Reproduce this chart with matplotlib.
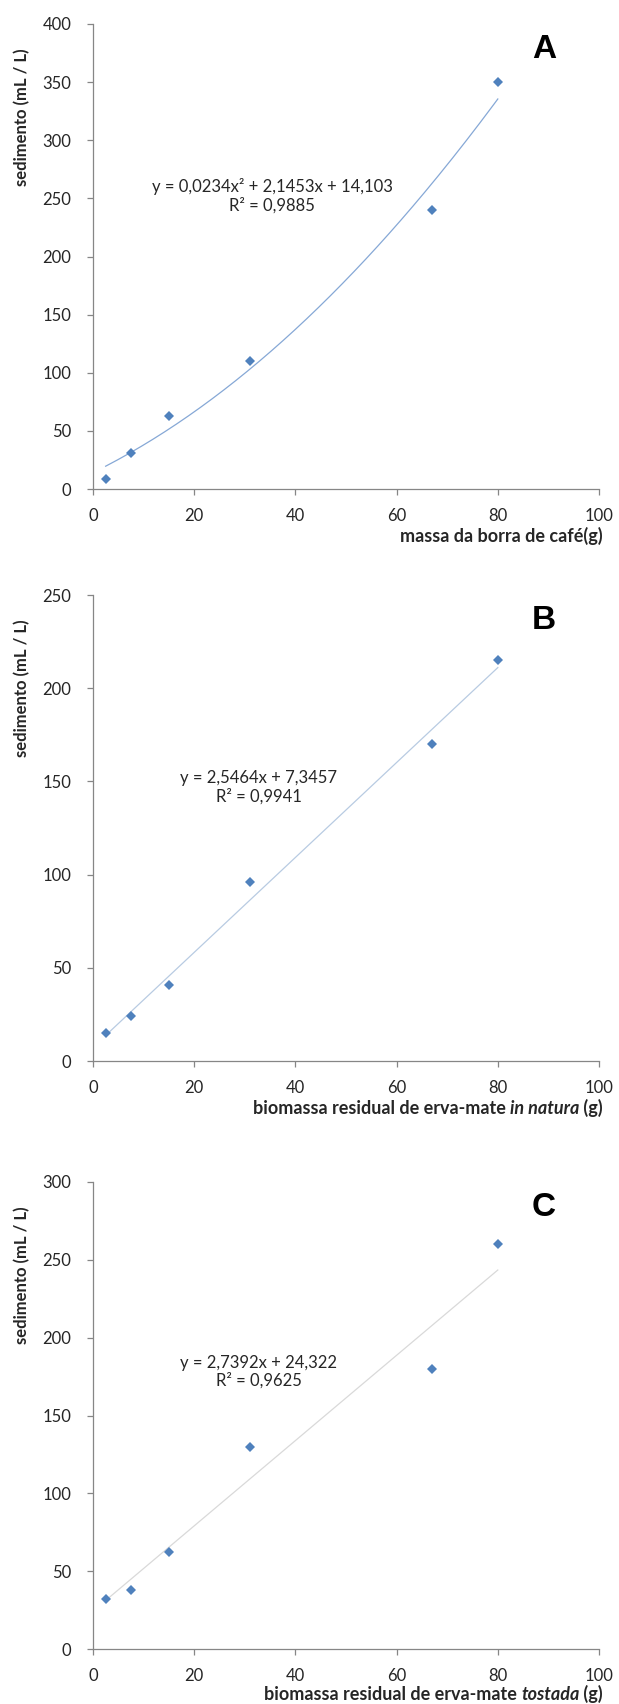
#!/usr/bin/env python3

import numpy as np
import matplotlib.pyplot as plt

# massa adicionada (g) - igual nos tres ensaios
massa = [2.5, 7.5, 15, 31, 67, 80]

# sedimento (mL / L)
sed_cafe = [9, 31, 63, 110, 240, 350]
sed_natura = [15, 24, 41, 96, 170, 215]
sed_tostada = [32, 38, 62, 130, 180, 260]

# coeficientes das linhas de tendencia (Excel)
coef_cafe = [0.0234, 2.1453, 14.103]
coef_natura = [2.5464, 7.3457]
coef_tostada = [2.7392, 24.322]

eq_cafe = "y = 0,0234x² + 2,1453x + 14,103\nR² = 0,9885"
eq_natura = "y = 2,5464x + 7,3457\nR² = 0,9941"
eq_tostada = "y = 2,7392x + 24,322\nR² = 0,9625"

ymax = [400, 250, 300]
letras = ["A", "B", "C"]

plt.rcParams["font.family"] = ["Lato", "DejaVu Sans"]

W, H = 619, 1704
fig = plt.figure(figsize=(W / 100, H / 100), dpi=100)

# (topo, base) em pixels de cada painel
caixas = [(24, 489), (595, 1061), (1182, 1649)]
paineis = [
    (sed_cafe, coef_cafe, eq_cafe, (35.4, 252), "#86A8D6",
     [("massa da borra de café(g)", "bold")]),
    (sed_natura, coef_natura, eq_natura, (32.8, 147), "#B8CBE2",
     [("biomassa residual de erva-mate ", "bold"), ("in natura", "bolditalic"), (" (g)", "bold")]),
    (sed_tostada, coef_tostada, eq_tostada, (32.8, 178), "#D9D9D9",
     [("biomassa residual de erva-mate ", "bold"), ("tostada", "bolditalic"), (" (g)", "bold")]),
]
desloc_xlab = [47, 47, 45]

cinza = "#868686"
texto = "#262626"

for i, (sed, coef, eq, pos_eq, cor_linha, xlab) in enumerate(paineis):
    topo, base = caixas[i]
    ax = fig.add_axes([93 / W, 1 - base / H, 506 / W, (base - topo) / H])

    xs = np.linspace(massa[0], massa[-1], 200)
    ax.plot(xs, np.polyval(coef, xs), color=cor_linha, lw=0.9, zorder=2)
    ax.plot(massa, sed, ls="none", marker="D", ms=5.2, mew=0,
            color="#4F81BD", zorder=3)

    ax.set_xlim(0, 100)
    ax.set_ylim(0, ymax[i])
    ax.set_xticks(np.arange(0, 101, 20))
    ax.set_yticks(np.arange(0, ymax[i] + 1, 50))

    for s in ["top", "right"]:
        ax.spines[s].set_visible(False)
    for s in ["left", "bottom"]:
        ax.spines[s].set_color(cinza)
        ax.spines[s].set_linewidth(0.9)
    ax.tick_params(axis="both", colors=cinza, labelcolor=texto,
                   labelsize=12, width=0.9, length=4.5, direction="out")
    ax.tick_params(axis="x", pad=9)
    ax.tick_params(axis="y", pad=11)

    ax.set_ylabel("sedimento (mL / L)", fontsize=12, fontweight="bold",
                  color=texto, va="center")
    ax.yaxis.set_label_coords(-0.14, 0.80)

    # rotulo do eixo x, com trecho em italico
    y_lab = -desloc_xlab[i] / (base - topo)
    partes = list(reversed(xlab))
    x_atual = 1.008
    for txt, estilo in partes:
        t = ax.text(x_atual, y_lab, txt, transform=ax.transAxes,
                    ha="right", va="center", fontsize=13, color=texto,
                    fontweight="bold",
                    fontstyle="italic" if estilo == "bolditalic" else "normal")
        fig.canvas.draw()
        bb = t.get_window_extent().transformed(ax.transAxes.inverted())
        x_atual = bb.x0

    ax.text(pos_eq[0], pos_eq[1], eq, ha="center", va="center",
            multialignment="center", fontsize=12, color=texto,
            linespacing=1.15)

    ax.text(0.891, 0.945, letras[i], transform=ax.transAxes, ha="center",
            va="center", fontsize=24, fontweight="bold",
            family="Liberation Sans", color="black")

fig.savefig("out.png", dpi=100, facecolor="white")
